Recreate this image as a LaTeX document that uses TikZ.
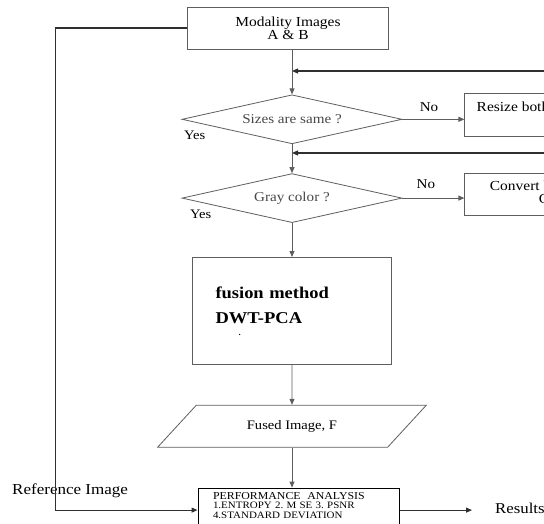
\documentclass[tikz,border=0pt]{standalone}
\usepackage{fontspec}
\setmainfont{Liberation Serif}[FakeStretch=1.12]
\usepackage{xcolor}
\definecolor{lineGray}{HTML}{5E5E5E}
\definecolor{darkLine}{HTML}{2F2F2F}
\definecolor{softText}{HTML}{474747}
\usetikzlibrary{
    shapes.geometric,
    arrows.meta,
    positioning
}
\tikzset{
    % Base style for all boxes
    flow base/.style={
        font=\fontsize{13.8}{13}\selectfont,
        align=center,
        text=black,
        draw=lineGray,
        line width=0.8pt,
        inner sep=0pt,
    },
    % Process boxes - plain rectangle
    process/.style={
        flow base,
        rectangle,
        minimum width=201pt,
        minimum height=42pt,
    },
    % Decision diamond - wide and flat
    decision/.style={
        flow base,
        diamond,
        aspect=4.5,
        minimum width=220pt,
        minimum height=49pt,
        text=softText,
        font=\fontsize{13.5}{14}\selectfont,
    },
    % IO node - slanted parallelogram
    io/.style={
        flow base,
        trapezium,
        trapezium left angle=33,
        trapezium right angle=147,
        trapezium stretches=true,
        minimum width=269pt,
        minimum height=42pt,
        font=\fontsize{13}{14}\selectfont,
    },
    % Arrow style - thin gray line, small solid tip
    arrow/.style={
        -{Triangle[length=6pt, width=5pt]},
        line width=0.8pt,
        draw=lineGray,
    },
    % Darker arrow for the loops and the reference line
    arrow back/.style={
        arrow,
        draw=darkLine,
        line width=1.1pt,
    },
    % Label style for Yes/No and loose texts
    edge label/.style={
        font=\fontsize{13.5}{15}\selectfont,
        inner sep=1pt,
    },
}

\begin{document}
\begin{tikzpicture}[x=1pt, y=-1pt]
    \useasboundingbox (0,0) rectangle (544,524);
    \clip (0,0) rectangle (544,524);

    \node (imgs) [process] at (288,28) {Modality Images\\A \& B};
    \node (sizes) [decision, below=45pt of imgs, xshift=4pt] {Sizes are same ?};
    \node (gray) [decision, below=29pt of sizes] {Gray color ?};
    \node (fusion) [process, minimum width=199pt, minimum height=107pt, text width=153pt, align=left,
        font=\fontsize{16.5}{25}\selectfont\bfseries, below=34pt of gray]
        {fusion method\\DWT-PCA\\[-13pt]\hspace*{23pt}{\fontsize{8}{8}\selectfont .}};
    \node (fused) [io, below=40pt of fusion] {Fused Image, F};
    \node (perf) [process, draw=black, line width=1pt, minimum height=44pt, text width=171pt, align=left,
        font=\fontsize{9.8}{9.5}\selectfont, below=40pt of fused, xshift=6.5pt]
        {{\fontsize{10.6}{10}\selectfont PERFORMANCE\ \ ANALYSIS}\\1.ENTROPY 2.\ M SE 3.\ PSNR\\4.STANDARD DEVIATION\\\mbox{}};
    \node (resize) [process, minimum width=144pt, minimum height=0pt, text height=18pt, text depth=25pt,
        right=62pt of sizes, yshift=4pt] {Resize both images};
    \node (conv) [process, minimum width=179pt, right=62pt of gray, yshift=4pt] {Convert both images\\Gray};
    \node (refimg) [edge label, font=\fontsize{15.2}{15}\selectfont, anchor=west] at (11,491) {Reference Image};
    \node (results) [edge label, font=\fontsize{15}{15}\selectfont, anchor=west] at (494,508) {Results};
    \node (yes1) [edge label, font=\fontsize{13}{14}\selectfont] at ([shift={(13,16)}]sizes.west) {Yes};
    \node (yes2) [edge label, font=\fontsize{13}{14}\selectfont] at ([shift={(19,16)}]gray.west) {Yes};
    \coordinate (join1) at (sizes.north |- 0,71);
    \coordinate (join2) at (gray.north |- 0,153);

    \draw [arrow] (imgs.south -| sizes.north) -- (sizes.north);
    \draw [arrow] (sizes) -- (gray);
    \draw [arrow] (gray) -- (fusion);
    \draw [arrow] (fusion) -- (fused);
    \draw [arrow] (fused.south) -- (fused.south |- perf.north);
    \draw [arrow] (sizes.east) -- node[edge label, above=6pt, pos=0.43] {No} (sizes.east -| resize.west);
    \draw [arrow] (gray.east) -- node[edge label, above=8pt, pos=0.38] {No} (gray.east -| conv.west);
    \draw [arrow back] (resize.east) -- ++(12,0) |- (join1);
    \draw [arrow back] (conv.east) -- ++(12,0) |- (join2);
    \draw [arrow back] (imgs.west) -- ++(-132,0) |- (perf.west);
    \draw [arrow back, shorten >=22pt] (perf.east) -- (perf.east -| results.west);
\end{tikzpicture}
\end{document}
